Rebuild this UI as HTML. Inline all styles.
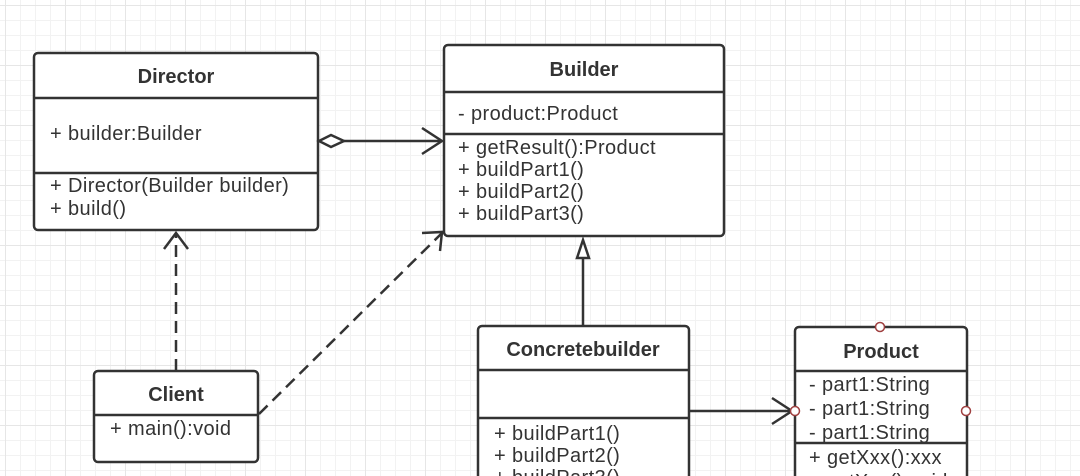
<!DOCTYPE html>
<html><head><meta charset="utf-8"><style>
html,body{margin:0;padding:0}
body{width:1080px;height:476px;overflow:hidden;background:#fff;
background-image:linear-gradient(#e6e6e6 1px,transparent 1px),linear-gradient(90deg,#e6e6e6 1px,transparent 1px),linear-gradient(#f2f2f2 1px,transparent 1px),linear-gradient(90deg,#f2f2f2 1px,transparent 1px);
background-size:60px 60px,60px 60px,15px 15px,15px 15px;background-position:5px 5px;
font-family:"Liberation Sans","DejaVu Sans",sans-serif;color:#333;position:relative}
svg{position:absolute;left:0;top:0}
</style></head><body>
<svg width="1080" height="476" viewBox="0 0 1080 476" font-family="Liberation Sans, DejaVu Sans, sans-serif" fill="#333">
<g stroke="#333" stroke-width="2.5" fill="#fff">
<rect x="34" y="53" width="284" height="177" rx="4"/>
<line x1="34" y1="98" x2="318" y2="98"/><line x1="34" y1="173" x2="318" y2="173"/>
<rect x="444" y="45" width="280" height="191" rx="4"/>
<line x1="444" y1="92" x2="724" y2="92"/><line x1="444" y1="134" x2="724" y2="134"/>
<rect x="94" y="371" width="164" height="91" rx="4"/>
<line x1="94" y1="415" x2="258" y2="415"/>
<rect x="478" y="326" width="211" height="170" rx="4"/>
<line x1="478" y1="370" x2="689" y2="370"/><line x1="478" y1="418" x2="689" y2="418"/>
<rect x="795" y="327" width="172" height="170" rx="4"/>
<line x1="795" y1="371" x2="967" y2="371"/><line x1="795" y1="443" x2="967" y2="443"/>
</g>
<g stroke="#333" stroke-width="2.5" fill="none">
<line x1="344" y1="141" x2="442" y2="141"/>
<polygon points="319,141 331,135 344,141 331,147" fill="#fff"/>
<polyline points="422,128 442,141 422,154"/>
<line x1="176" y1="371" x2="176" y2="234" stroke-dasharray="12,7"/>
<polyline points="164,249 176,233 188,249"/>
<line x1="259" y1="414" x2="442" y2="233" stroke-dasharray="12,7"/>
<polyline points="422,233 442,232 440,251"/>
<line x1="583" y1="326" x2="583" y2="258"/>
<polygon points="577,258 583,240 589,258" fill="#fff"/>
<line x1="690" y1="411" x2="792" y2="411"/>
<polyline points="772,398 792,411 772,424"/>
</g>
<g stroke="#a04040" stroke-width="1.5" fill="#fff">
<circle cx="880" cy="327" r="4.5"/><circle cx="795" cy="411" r="4.5"/><circle cx="966" cy="411" r="4.5"/>
</g>
<g font-size="20" font-weight="bold" text-anchor="middle">
<text x="176" y="83">Director</text>
<text x="584" y="76">Builder</text>
<text x="176" y="401">Client</text>
<text x="583" y="356">Concretebuilder</text>
<text x="881" y="358">Product</text>
</g>
<g font-size="20" letter-spacing="0.4">
<text x="50" y="140">+ builder:Builder</text>
<text x="50" y="192">+ Director(Builder builder)</text>
<text x="50" y="215">+ build()</text>
<text x="458" y="120">- product:Product</text>
<text x="458" y="154">+ getResult():Product</text>
<text x="458" y="176">+ buildPart1()</text>
<text x="458" y="198">+ buildPart2()</text>
<text x="458" y="220">+ buildPart3()</text>
<text x="110" y="435">+ main():void</text>
<text x="494" y="440">+ buildPart1()</text>
<text x="494" y="462">+ buildPart2()</text>
<text x="494" y="484">+ buildPart3()</text>
<text x="809" y="391">- part1:String</text>
<text x="809" y="415">- part1:String</text>
<text x="809" y="439">- part1:String</text>
<text x="809" y="464">+ getXxx():xxx</text>
<text x="809" y="488">+ setXxx():void</text>
</g>
</svg>
</body></html>
